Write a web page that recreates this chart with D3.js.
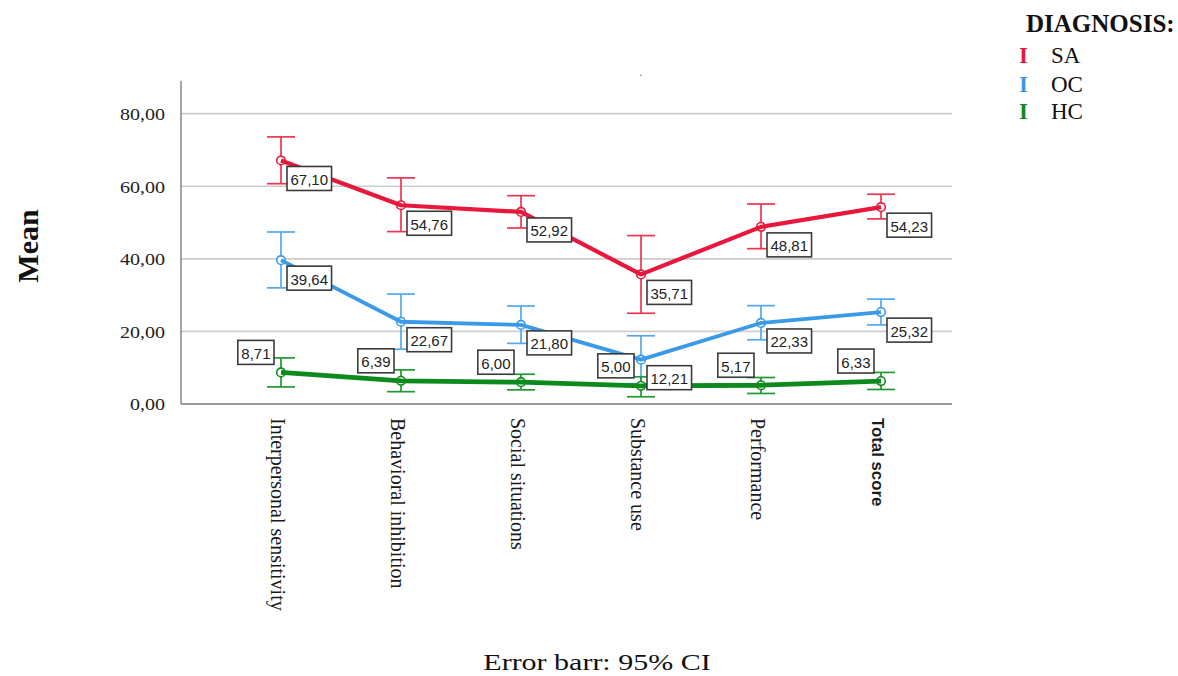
<!DOCTYPE html>
<html>
<head>
<meta charset="utf-8">
<script src="https://cdn.jsdelivr.net/npm/d3@7"></script>
<style>
  html, body { margin: 0; padding: 0; background: #fff; }
  svg { display: block; }
</style>
</head>
<body>
<svg id="chart" width="1178" height="676"></svg>
<script>
// Subscale means with 95% confidence intervals, per diagnosis group
const categories = ["Interpersonal sensitivity", "Behavioral inhibition", "Social situations",
                    "Substance use", "Performance", "Total score"];

const saMean = [67.10, 54.76, 52.92, 35.71, 48.81, 54.23];
const saLow  = [60.7, 47.5, 48.5, 25.0, 42.8, 51.0];
const saHigh = [73.6, 62.3, 57.4, 46.4, 55.1, 57.8];

const ocMean = [39.64, 22.67, 21.80, 12.21, 22.33, 25.32];
const ocLow  = [32.0, 15.1, 16.7, 5.6, 17.7, 21.8];
const ocHigh = [47.4, 30.3, 27.0, 18.8, 27.1, 28.9];

const hcMean = [8.71, 6.39, 6.00, 5.00, 5.17, 6.33];
const hcLow  = [4.7, 3.4, 3.9, 2.0, 2.9, 4.0];
const hcHigh = [12.7, 9.4, 8.2, 7.5, 7.3, 8.7];

const groupNames = ["SA", "OC", "HC"];
const yTicks = [0, 20, 40, 60, 80];

const groups = [
  { name: groupNames[0], mean: saMean, low: saLow, high: saHigh, color: "#e8173c", bar: "#ee3550", width: 4.2, labelSide: "below" },
  { name: groupNames[1], mean: ocMean, low: ocLow, high: ocHigh, color: "#3a9ae8", bar: "#52a8ee", width: 3.8, labelSide: "below" },
  { name: groupNames[2], mean: hcMean, low: hcLow, high: hcHigh, color: "#0d8a1d", bar: "#1f9a30", width: 4.8, labelSide: "above" }
];

const svg = d3.select("#chart");
const serif = "'Liberation Serif', 'Times New Roman', serif";
const sans = "'Liberation Sans', Arial, sans-serif";
const commaFmt = d3.formatLocale({ decimal: ",", thousands: ".", grouping: [3], currency: ["", ""] }).format(".2f");

const frame = { left: 181, right: 952, top: 81, bottom: 404 };
const x = d3.scalePoint().domain(categories).range([281, 881]);
const y = d3.scaleLinear().domain([0, 89]).range([frame.bottom, frame.top]);

// Places a text element with an optional rotation and horizontal stretch
function place(sel, px, py, rot, sx) {
  sel.attr("transform", `translate(${px},${py}) rotate(${rot || 0}) scale(${sx || 1},1)`);
  return sel;
}

// Grid lines
svg.append("g")
  .selectAll("line")
  .data(yTicks.filter(d => d > 0))
  .join("line")
  .attr("x1", frame.left).attr("x2", frame.right)
  .attr("y1", d => y(d)).attr("y2", d => y(d))
  .attr("stroke", "#cdcdcd").attr("stroke-width", 1.6);

// Axis frame
svg.append("line")
  .attr("x1", frame.left).attr("x2", frame.left)
  .attr("y1", frame.top).attr("y2", frame.bottom)
  .attr("stroke", "#9a9a9a").attr("stroke-width", 1.8);
svg.append("line")
  .attr("x1", frame.left).attr("x2", frame.right)
  .attr("y1", frame.bottom).attr("y2", frame.bottom)
  .attr("stroke", "#9a9a9a").attr("stroke-width", 2.2);

// Y axis tick labels (each tick group is already translated to its value)
const yAxis = d3.axisLeft(y).tickValues(yTicks).tickSize(0).tickPadding(16).tickFormat(commaFmt);
const yG = svg.append("g").attr("transform", `translate(${frame.left},0)`).call(yAxis);
yG.select(".domain").remove();
yG.selectAll("text")
  .attr("font-family", serif).attr("font-size", 17).attr("fill", "#222")
  .each(function() {
    const t = d3.select(this).attr("x", null).attr("dy", null)
      .attr("text-anchor", "end").attr("dominant-baseline", "central");
    place(t, -16, 0, 0, 1.18);
  });

// Y axis title
place(svg.append("text"), 27, 246, -90, 1)
  .attr("text-anchor", "middle").attr("dominant-baseline", "central")
  .attr("font-family", serif).attr("font-weight", "bold").attr("font-size", 30)
  .attr("fill", "#111").text("Mean");

// X axis category labels, rotated
svg.append("g").selectAll("text")
  .data(categories)
  .join("text")
  .each(function(d) {
    const last = d === categories[categories.length - 1];
    const t = d3.select(this)
      .attr("text-anchor", "start").attr("dominant-baseline", "central")
      .attr("font-family", last ? sans : serif)
      .attr("font-weight", last ? "bold" : "normal")
      .attr("font-size", last ? 16 : 20)
      .attr("fill", "#1a1a1a").text(d);
    place(t, x(d) - 3, 418, 90, last ? 1.05 : 1);
  });

// Small title mark above the plot
svg.append("text").attr("x", 641).attr("y", 76).attr("text-anchor", "middle")
  .attr("font-family", sans).attr("font-size", 12).attr("fill", "#666").text(".");

// Error bars
const capHalf = 14;
groups.forEach(g => {
  const eg = svg.append("g");
  categories.forEach((c, i) => {
    const cx = x(c);
    eg.append("line").attr("x1", cx).attr("x2", cx)
      .attr("y1", y(g.high[i])).attr("y2", y(g.low[i]))
      .attr("stroke", g.bar).attr("stroke-width", 1.7);
    [g.high[i], g.low[i]].forEach(v => {
      eg.append("line").attr("x1", cx - capHalf).attr("x2", cx + capHalf)
        .attr("y1", y(v)).attr("y2", y(v))
        .attr("stroke", g.bar).attr("stroke-width", 1.7);
    });
  });
});

// Markers, then mean lines over them
groups.forEach(g => {
  svg.append("g").selectAll("circle")
    .data(categories)
    .join("circle")
    .attr("cx", d => x(d)).attr("cy", (d, i) => y(g.mean[i]))
    .attr("r", 4.3).attr("fill", "#fff")
    .attr("stroke", g.color).attr("stroke-width", 1.6);
  const line = d3.line().x(d => x(d)).y((d, i) => y(g.mean[i]));
  svg.append("path").datum(categories)
    .attr("d", line)
    .attr("fill", "none").attr("stroke", g.color)
    .attr("stroke-width", g.width).attr("stroke-linejoin", "round");
});

// Value labels in boxes
groups.forEach(g => {
  const lg = svg.append("g");
  categories.forEach((c, i) => {
    const px = x(c), py = y(g.mean[i]);
    const label = lg.append("g");
    const txt = label.append("text")
      .attr("font-family", sans).attr("font-size", 15).attr("fill", "#222")
      .attr("dominant-baseline", "central").attr("text-anchor", "middle")
      .text(commaFmt(g.mean[i]));
    const w = txt.node().getComputedTextLength() + 7;
    const h = 24;
    let bx, by;
    if (g.labelSide === "below") { bx = px + 6; by = py + 6; }
    else { bx = px - 7 - w; by = py - 8 - h; }
    label.insert("rect", "text")
      .attr("x", bx).attr("y", by).attr("width", w).attr("height", h)
      .attr("fill", "#fff").attr("stroke", "#3a3a3a").attr("stroke-width", 1.6);
    txt.attr("x", bx + w / 2).attr("y", by + h / 2 + 1);
  });
});

// Legend
const legend = svg.append("g");
legend.append("text").attr("x", 1026).attr("y", 32)
  .attr("font-family", serif).attr("font-weight", "bold").attr("font-size", 25)
  .attr("fill", "#111").text("DIAGNOSIS:");
const legendY = [63, 92, 119];
groups.forEach((g, i) => {
  legend.append("text").attr("x", 1019).attr("y", legendY[i])
    .attr("font-family", serif).attr("font-weight", "bold").attr("font-size", 23)
    .attr("fill", g.color).text("I");
  legend.append("text").attr("x", 1051).attr("y", legendY[i])
    .attr("font-family", serif).attr("font-size", 23)
    .attr("fill", "#111").text(g.name);
});

// Footnote
place(svg.append("text"), 597, 662, 0, 1.25)
  .attr("text-anchor", "middle").attr("dominant-baseline", "central")
  .attr("font-family", serif).attr("font-size", 24)
  .attr("fill", "#111").text("Error barr: 95% CI");
</script>
</body>
</html>
